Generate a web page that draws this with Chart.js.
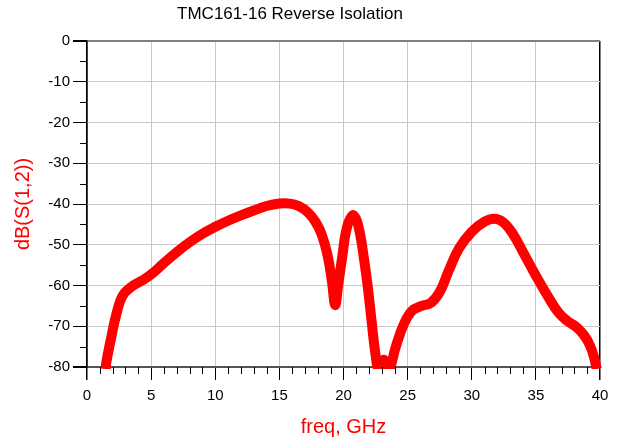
<!DOCTYPE html>
<html>
<head>
<meta charset="utf-8">
<script src="https://cdn.jsdelivr.net/npm/chart.js@4.4.1/dist/chart.umd.min.js"></script>
<style>
  html, body { margin: 0; padding: 0; background: #fff; }
  #wrap { position: relative; width: 619px; height: 440px; }
  #title {
    position: absolute; left: 0; top: 4px; width: 580px;
    text-align: center; font: 17px/20px 'Liberation Sans', Arial, sans-serif; color: #000;
  }
</style>
</head>
<body>
<div id="wrap">
  <canvas id="isoChart"></canvas>
  <div id="title">TMC161-16 Reverse Isolation</div>
</div>
<script>
// frequency points (GHz) and dB(S(1,2))
const freq = [
    1.45, 1.51, 1.9, 2.3, 2.8, 3.6, 4.4, 5.0, 6.0, 7.0,
    8.0, 9.0, 10.0, 11.0, 12.0, 13.0, 14.0, 15.0, 15.8, 16.5,
    17.2, 17.8, 18.3, 18.75, 19.1, 19.35, 19.6, 19.9, 20.25, 20.7,
    21.0, 21.3, 21.6, 21.9, 22.2, 22.5, 22.75, 23.15, 23.55, 24.06,
    24.7, 25.35, 26.1, 26.8, 27.5, 28.2, 29.0, 30.0, 31.0, 31.8,
    32.5, 33.2, 34.0, 35.0, 36.0, 36.8, 37.5, 38.2, 38.8, 39.2,
    39.5, 39.75
];
const s12 = [
    -80.5, -78.8, -72.6, -66.9, -62.4, -60.0, -58.6, -57.3, -54.5, -51.8,
    -49.4, -47.3, -45.6, -44.1, -42.8, -41.6, -40.5, -39.9, -39.9, -40.5,
    -42.0, -44.3, -47.5, -52.5, -59.0, -64.8, -59.5, -53.0, -46.0, -42.8,
    -43.8, -47.5, -53.5, -60.5, -69.0, -77.0, -80.5, -78.2, -80.5, -75.2,
    -69.5, -66.2, -65.0, -64.3, -61.6, -56.4, -50.9, -46.8, -44.3, -43.6,
    -44.6, -47.3, -51.8, -57.6, -63.0, -66.8, -68.8, -70.3, -72.4, -74.6,
    -77.2, -80.5
];

const xTicks = [0, 5, 10, 15, 20, 25, 30, 35, 40];
const yTicks = [0, -10, -20, -30, -40, -50, -60, -70, -80];

const fontFamily = "'Liberation Sans', Arial, sans-serif";

// small unlabeled ticks: every 1 GHz on x, every 10 dB (offset 5) on y
const minorTicks = {
    id: "minorTicks",
    afterDraw(chart) {
        const { ctx, chartArea, scales: { x, y } } = chart;
        ctx.save();
        ctx.strokeStyle = "#000";
        ctx.lineWidth = 1;
        ctx.beginPath();
        for (let v = 1; v < 40; v++) {
            if (v % 5 === 0) continue;
            const px = Math.round(x.getPixelForValue(v)) + 0.5;
            ctx.moveTo(px, chartArea.bottom);
            ctx.lineTo(px, chartArea.bottom + 7);
        }
        for (let v = -75; v < 0; v += 10) {
            const py = Math.round(y.getPixelForValue(v)) + 0.5;
            ctx.moveTo(chartArea.left - 7, py);
            ctx.lineTo(chartArea.left, py);
        }
        ctx.stroke();
        ctx.restore();
    }
};

new Chart(document.getElementById("isoChart"), {
    type: "line",
    data: {
        datasets: [{
            label: "dB(S(1,2))",
            data: freq.map((f, i) => ({ x: f, y: s12[i] })),
            borderColor: "#ff0000",
            backgroundColor: "#ff0000",
            borderWidth: 10,
            pointRadius: 0,
            tension: 0.4,
            borderCapStyle: "butt",
            borderJoinStyle: "round",
            clip: 2
        }]
    },
    options: {
        responsive: true,
        maintainAspectRatio: false,
        animation: false,
        layout: {
            padding: { left: 0, right: 19, top: 41, bottom: 0 }
        },
        plugins: {
            legend: { display: false },
            tooltip: { enabled: false },
            title: { display: false }
        },
        scales: {
            x: {
                type: "linear",
                min: 0,
                max: 40,
                afterBuildTicks: (s) => { s.ticks = xTicks.map(v => ({ value: v })); },
                afterFit: (s) => { s.height = 73; },
                ticks: {
                    color: "#000",
                    padding: 7,
                    maxRotation: 0,
                    font: { family: fontFamily, size: 15 }
                },
                grid: {
                    color: (c) => (c.tick && (c.tick.value === 0 || c.tick.value === 40)) ? "#000" : "#c8c8c8",
                    lineWidth: (c) => (c.tick && (c.tick.value === 0 || c.tick.value === 40)) ? 1.5 : 1,
                    tickColor: "#000",
                    tickLength: 13
                },
                border: { display: true, color: "#555", width: 2 },
                title: {
                    display: true,
                    text: "freq, GHz",
                    color: "#ff0000",
                    font: { family: fontFamily, size: 20 },
                    padding: { top: 0, bottom: 1 }
                }
            },
            y: {
                type: "linear",
                min: -80,
                max: 0,
                afterBuildTicks: (s) => { s.ticks = yTicks.map(v => ({ value: v })); },
                afterFit: (s) => { s.width = 87; },
                ticks: {
                    color: "#000",
                    padding: 3,
                    font: { family: fontFamily, size: 15 }
                },
                grid: {
                    color: (c) => {
                        if (!c.tick) return "#c8c8c8";
                        if (c.tick.value === 0) return "#808080";
                        if (c.tick.value === -80) return "#555";
                        return "#c8c8c8";
                    },
                    lineWidth: (c) => (c.tick && (c.tick.value === 0 || c.tick.value === -80)) ? 2 : 1,
                    tickColor: "#000",
                    tickLength: 14
                },
                border: { display: true, color: "#000", width: 1.5 },
                title: {
                    display: true,
                    text: "dB(S(1,2))",
                    color: "#ff0000",
                    font: { family: fontFamily, size: 20 },
                    padding: { top: 11, bottom: 0 }
                }
            }
        }
    },
    plugins: [minorTicks]
});
</script>
</body>
</html>
